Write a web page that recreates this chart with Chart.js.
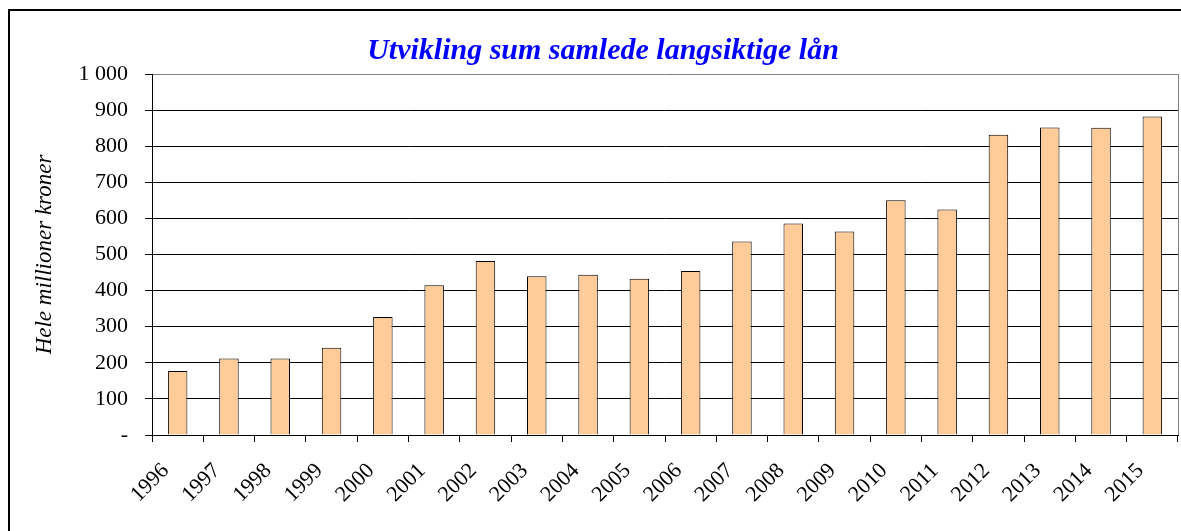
<!DOCTYPE html>
<html>
<head>
<meta charset="utf-8">
<script src="https://cdn.jsdelivr.net/npm/chart.js@4"></script>
<style>
  body { margin: 0; background: #fff; }
  #wrap { position: relative; width: 1181px; height: 531px; overflow: hidden; }
  #frame { position: absolute; left: 8px; top: 9px; width: 1300px; height: 700px;
           border-left: 2px solid #000; border-top: 2px solid #000; }
  canvas { position: absolute; left: 0; top: 0; }
</style>
</head>
<body>
<div id="wrap">
  <div id="frame"></div>
  <canvas id="chart"></canvas>
</div>
<script>
// Data (millioner kroner)
const years = ['1996', '1997', '1998', '1999', '2000', '2001', '2002', '2003', '2004', '2005',
               '2006', '2007', '2008', '2009', '2010', '2011', '2012', '2013', '2014', '2015'];
const loans = [177, 212, 212, 242, 327, 415, 482, 440, 444, 433,
               454, 536, 586, 564, 650, 625, 832, 852, 851, 882];
const yTickLabels = ['-', '100', '200', '300', '400', '500', '600', '700', '800', '900', '1 000'];
const chartTitle = 'Utvikling sum samlede langsiktige lån';

const serif = '"Liberation Serif", "Times New Roman", serif';

// Gray right edge of the plot area + the title (sits a bit right of centre)
const decorations = {
    id: 'decorations',
    beforeDatasetsDraw(chart) {
        const { ctx, chartArea } = chart;
        ctx.save();
        ctx.strokeStyle = '#808080';
        ctx.lineWidth = 1;
        ctx.beginPath();
        ctx.moveTo(chartArea.right + 0.5, chartArea.top);
        ctx.lineTo(chartArea.right + 0.5, chartArea.bottom);
        ctx.stroke();
        ctx.restore();
    },
    afterDraw(chart) {
        const ctx = chart.ctx;
        ctx.save();
        ctx.fillStyle = '#0000FF';
        ctx.font = 'italic bold 30px ' + serif;
        ctx.textAlign = 'center';
        ctx.textBaseline = 'alphabetic';
        ctx.fillText(chartTitle, 603, 59);
        ctx.restore();
    }
};

new Chart(document.getElementById('chart'), {
    type: 'bar',
    data: {
        labels: years,
        datasets: [{
            data: loans,
            backgroundColor: '#FFCC99',
            borderColor: '#000000',
            borderWidth: 1,
            categoryPercentage: 1,
            barPercentage: 0.38
        }]
    },
    options: {
        responsive: true,
        maintainAspectRatio: false,
        animation: false,
        layout: { padding: { left: 0, right: 3, top: 74, bottom: 0 } },
        plugins: {
            legend: { display: false },
            tooltip: { enabled: false },
            title: { display: false }
        },
        scales: {
            x: {
                grid: { display: true, drawOnChartArea: false, offset: true, tickLength: 7, color: '#000' },
                border: { color: '#000', width: 1 },
                ticks: {
                    color: '#000',
                    font: { family: serif, size: 22 },
                    minRotation: 45,
                    maxRotation: 45,
                    autoSkip: false,
                    padding: 16,
                    labelOffset: -12
                },
                afterFit(scale) {
                    scale.height = 96;
                    scale.paddingLeft = 0;
                    scale.paddingRight = 0;
                }
            },
            y: {
                min: 0,
                max: 1000,
                ticks: {
                    stepSize: 100,
                    color: '#000',
                    font: { family: serif, size: 22 },
                    padding: 17,
                    callback: (value, index) => yTickLabels[index]
                },
                grid: {
                    color: (c) => c.tick && c.tick.value === 1000 ? '#808080' : '#000',
                    tickColor: '#000',
                    tickLength: 7,
                    lineWidth: 1
                },
                border: { color: '#000', width: 1 },
                title: {
                    display: true,
                    text: 'Hele millioner kroner',
                    color: '#000',
                    font: { family: serif, size: 23, style: 'italic' },
                    padding: { top: 31, bottom: 0 }
                },
                afterFit(scale) {
                    scale.width = 152;
                    scale.paddingTop = 0;
                    scale.paddingBottom = 0;
                }
            }
        }
    },
    plugins: [decorations]
});
</script>
</body>
</html>
